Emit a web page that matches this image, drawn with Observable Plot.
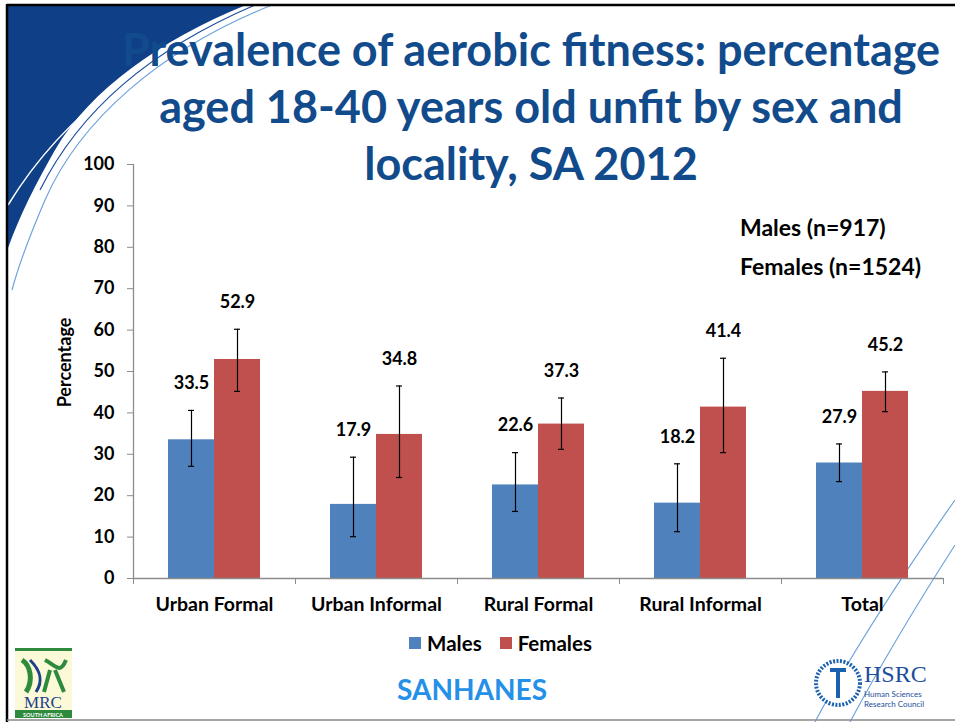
<!DOCTYPE html>
<html><head><meta charset="utf-8">
<script src="https://cdn.jsdelivr.net/npm/d3@7"></script>
<script src="https://cdn.jsdelivr.net/npm/@observablehq/plot@0.6"></script>
<style>
body{margin:0;background:#fff;font-family:Lato,"Open Sans",sans-serif;}
#page{position:relative;width:955px;height:722px;overflow:hidden;background:#fff;}
#deco{position:absolute;left:0;top:0;}
#chart{position:absolute;left:0;top:0;}
.abs{position:absolute;font-weight:bold;white-space:nowrap;}
#title{left:81px;top:21px;width:900px;text-align:center;color:#124B8B;font-size:45px;line-height:57px;}
.note{left:740px;font-size:23px;line-height:28px;color:#000;}
#legend{left:0;width:955px;top:630px;display:flex;justify-content:center;gap:18px;font-size:20.5px;line-height:26px;color:#000;margin-left:23px;}
#legend span{display:inline-flex;align-items:center;gap:6px;}
#legend i{display:inline-block;width:12px;height:12px;}
#sanhanes{left:0;width:944px;text-align:center;top:672px;color:#2590E8;font-size:28px;line-height:34px;}
</style></head><body>
<div id="page">
<svg id="deco" width="955" height="722">
  <path d="M8,5 L246,5 C160,40 90,90 55,150 C35,185 20,215 8,248 Z" fill="#0F3F86"/>
  <path d="M8,205 C60,120 150,40 300,5" fill="none" stroke="#ffffff" stroke-width="1.5"/>
  <path d="M255,5 C150,50 80,110 40,190" fill="none" stroke="#1B4F9E" stroke-width="1.2"/>
  <path d="M272,5 C160,50 80,120 45,200 C30,235 20,260 12,290" fill="none" stroke="#6FA3DC" stroke-width="1.2"/>
  <path d="M815,722 C845,665 885,600 955,500" fill="none" stroke="#6FA3DC" stroke-width="1.2"/>
  <path d="M850,722 C878,670 910,615 955,545" fill="none" stroke="#6FA3DC" stroke-width="1.2"/>
  <line x1="7" y1="5" x2="955" y2="5" stroke="#000" stroke-width="2.5"/>
  <line x1="7" y1="4" x2="7" y2="722" stroke="#000" stroke-width="2.5"/>
  <line x1="7" y1="720" x2="955" y2="720" stroke="#888" stroke-width="1.5"/>
  <!-- MRC logo -->
  <rect x="15" y="648" width="57" height="70" fill="#FCF9D8"/>
  <rect x="15" y="648" width="57" height="3" fill="#2E8B3E"/>
  <path d="M22,660 C30,665 34,680 26,692" fill="none" stroke="#2E8B3E" stroke-width="5"/>
  <path d="M30,660 C40,670 44,680 36,692" fill="none" stroke="#1E3F8A" stroke-width="3"/>
  <path d="M45,660 C55,665 60,675 66,660" fill="none" stroke="#2E8B3E" stroke-width="4"/>
  <path d="M50,670 L44,692 M55,670 L64,692" fill="none" stroke="#2E8B3E" stroke-width="4"/>
  <text x="43" y="708" text-anchor="middle" font-family="Liberation Serif, serif" font-size="17" fill="#1E3F8A">MRC</text>
  <rect x="15" y="710" width="57" height="8" fill="#2E8B3E"/>
  <text x="43" y="716.5" text-anchor="middle" font-family="Lato" font-size="5.5" font-weight="bold" fill="#fff">SOUTH AFRICA</text>
  <!-- HSRC logo -->
  <circle cx="838" cy="683" r="22" fill="#fff" stroke="#1B61AE" stroke-width="4" stroke-dasharray="2 1.5"/>
  <path d="M830,670 L846,670 M838,670 L838,698" stroke="#1B61AE" stroke-width="4" fill="none"/>
  <text x="864" y="682" font-family="Liberation Serif, serif" font-size="24" fill="#1B4E9B">HSRC</text>
  <text x="864" y="697" font-family="Lato" font-size="8" fill="#1B4E9B">Human Sciences</text>
  <text x="864" y="707" font-family="Lato" font-size="8" fill="#1B4E9B">Research Council</text>
</svg>
<div id="chart"></div>
<div id="title" class="abs">Prevalence of aerobic fitness: percentage<br>aged 18-40 years old unfit by sex and<br>locality, SA 2012</div>
<div class="abs note" style="top:213px">Males (n=917)</div>
<div class="abs note" style="top:252px">Females (n=1524)</div>
<div id="legend" class="abs"></div>
<div id="sanhanes" class="abs">SANHANES</div>
</div>
<script>
const categories = ["Urban Formal", "Urban Informal", "Rural Formal", "Rural Informal", "Total"];
const series = ["Males", "Females"];
const colors = ["#4F81BD", "#C0504D"];
const males = [33.5, 17.9, 22.6, 18.2, 27.9];
const females = [52.9, 34.8, 37.3, 41.4, 45.2];
const malesLow = [27.1, 10.1, 16.2, 11.3, 23.4];
const malesHigh = [40.6, 29.3, 30.4, 27.7, 32.5];
const femalesLow = [45.2, 24.4, 31.2, 30.4, 40.3];
const femalesHigh = [60.2, 46.5, 43.6, 53.2, 49.9];
const yTicks = [0, 10, 20, 30, 40, 50, 60, 70, 80, 90, 100];
const yTitle = "Percentage";

const maleRows = categories.map((c, i) => ({category: c, value: males[i], low: malesLow[i], high: malesHigh[i]}));
const femaleRows = categories.map((c, i) => ({category: c, value: females[i], low: femalesLow[i], high: femalesHigh[i]}));

const half = 81, off = 23;
function seriesMarks(rows, color, side) {
  const left = side < 0;
  return [
    Plot.barY(rows, {x: "category", y: "value", fill: color,
      insetLeft: left ? half - 2*off : half, insetRight: left ? half : half - 2*off}),
    Plot.ruleX(rows, {x: "category", y1: "low", y2: "high", dx: side*off, stroke: "#000", strokeWidth: 1.2}),
    Plot.tickY(rows, {x: "category", y: "low", stroke: "#000", strokeWidth: 1.2,
      insetLeft: half + side*off - 3, insetRight: half - side*off - 3}),
    Plot.tickY(rows, {x: "category", y: "high", stroke: "#000", strokeWidth: 1.2,
      insetLeft: half + side*off - 3, insetRight: half - side*off - 3}),
    Plot.text(rows, {x: "category", y: "high", dx: side*off, dy: -27, text: d => d.value.toFixed(1),
      fontSize: 18, fontWeight: "bold", fill: "#000"})
  ];
}

const chart = Plot.plot({
  width: 955, height: 722,
  marginLeft: 133, marginRight: 12, marginTop: 164, marginBottom: 144,
  style: {fontFamily: "Lato, 'Open Sans', sans-serif", fontSize: "17px", fontWeight: "bold", color: "#000", background: "transparent"},
  x: {domain: categories, padding: 0, label: null, axis: null},
  y: {domain: [0, 100], label: null, axis: null},
  marks: [
    ...seriesMarks(maleRows, colors[0], -1),
    ...seriesMarks(femaleRows, colors[1], 1),
    Plot.ruleY([0], {stroke: "#8c8c8c", strokeWidth: 1.3}),
    Plot.ruleX([categories[0]], {dx: -half, y1: 0, y2: 100, stroke: "#8c8c8c", strokeWidth: 1.3}),
    Plot.axisY({ticks: yTicks, tickSize: 6, tickPadding: 13, stroke: "#8c8c8c", fill: "#000", label: null, fontSize: 18}),
    Plot.text([yTitle], {frameAnchor: "left", textAnchor: "middle", rotate: -90, dx: -68, dy: -9, fontSize: 18, fontWeight: "bold", fill: "#000"}),
    Plot.axisX({tickSize: 0, tickPadding: 19, fill: "#000", fontSize: 19.5, label: null}),
    Plot.axisX({ticks: categories, tickSize: 6, dx: -half, stroke: "#8c8c8c", tickFormat: () => "", label: null}),
    Plot.axisX({ticks: [categories[4]], tickSize: 6, dx: half, stroke: "#8c8c8c", tickFormat: () => "", label: null})
  ]
});
document.getElementById("chart").appendChild(chart);

const legend = document.getElementById("legend");
series.forEach((s, i) => {
  const span = document.createElement("span");
  span.innerHTML = `<i style="background:${colors[i]}"></i>${s}`;
  legend.appendChild(span);
});
</script>
</body></html>
